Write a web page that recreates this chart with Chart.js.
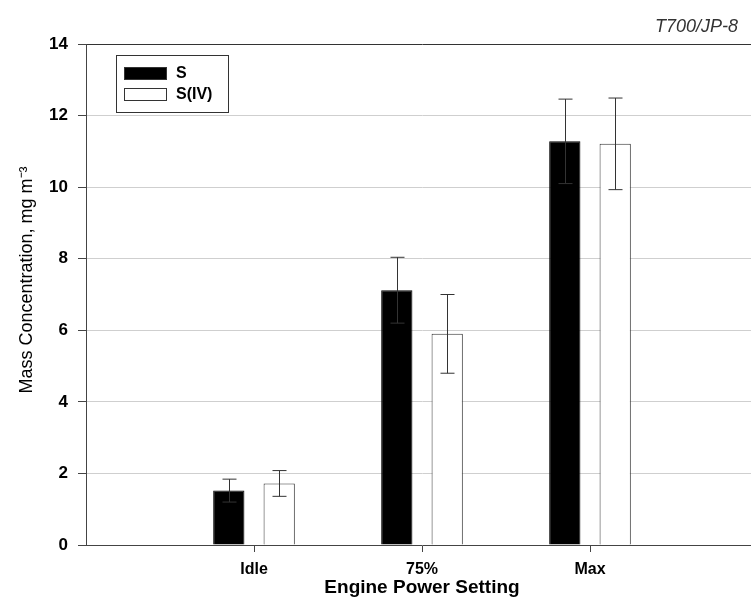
<!DOCTYPE html>
<html>
<head>
<meta charset="utf-8">
<script src="https://cdn.jsdelivr.net/npm/chart.js@4.4.0/dist/chart.umd.min.js"></script>
<style>
  html, body { margin: 0; padding: 0; background: #fff; overflow: hidden; }
  /* the original figure is cropped on the right, so the plot runs a little past the window */
  #wrap { width: 758px; height: 611px; position: relative; }
</style>
</head>
<body>
<div id="wrap"><canvas id="c"></canvas></div>
<script>
// values
const categories = ['Idle', '75%', 'Max'];
const sValues = [1.52, 7.12, 11.28];
const sErr = [0.32, 0.92, 1.18];
const sivValues = [1.72, 5.9, 11.21];
const sivErr = [0.36, 1.1, 1.28];
const yTicks = [0, 2, 4, 6, 8, 10, 12, 14];

const FONT = '"Liberation Sans", Arial, Helvetica, sans-serif';

// pad one empty slot on each side so the groups sit at 1/4, 2/4, 3/4 of the width
const labels = [''].concat(categories, ['']);
const pad = arr => [null].concat(arr, [null]);

// error bars drawn from the scale
const errorBars = {
  id: 'errorBars',
  afterDatasetsDraw(chart) {
    const ctx = chart.ctx;
    const y = chart.scales.y;
    const errs = [sErr, sivErr];
    ctx.save();
    ctx.strokeStyle = '#333';
    ctx.lineWidth = 1;
    chart.data.datasets.forEach((ds, i) => {
      const meta = chart.getDatasetMeta(i);
      meta.data.forEach((bar, j) => {
        const v = ds.data[j];
        if (v == null) return;
        const e = errs[i][j - 1];
        const x = Math.round(bar.x) + 0.5;
        const top = y.getPixelForValue(v + e);
        const bot = y.getPixelForValue(v - e);
        ctx.beginPath();
        ctx.moveTo(x, top); ctx.lineTo(x, bot);
        ctx.moveTo(x - 7, top); ctx.lineTo(x + 7, top);
        ctx.moveTo(x - 7, bot); ctx.lineTo(x + 7, bot);
        ctx.stroke();
      });
    });
    ctx.restore();
  }
};

// boxed legend inside the plot, y title and the corner note
const extras = {
  id: 'extras',
  afterDraw(chart) {
    const ctx = chart.ctx;
    ctx.save();
    // legend box
    ctx.strokeStyle = '#333';
    ctx.lineWidth = 1;
    ctx.strokeRect(116.5, 55.5, 112, 57);
    chart.data.datasets.forEach((ds, i) => {
      const sy = 67 + i * 21;
      ctx.fillStyle = ds.backgroundColor;
      ctx.fillRect(124, sy, 43, 13);
      ctx.strokeStyle = '#333';
      ctx.strokeRect(124.5, sy + 0.5, 42, 12);
      ctx.fillStyle = '#000';
      ctx.font = 'bold 16px ' + FONT;
      ctx.textBaseline = 'middle';
      ctx.textAlign = 'left';
      ctx.fillText(ds.label, 176, sy + 7);
    });
    // y axis title
    ctx.save();
    ctx.translate(27, 280);
    ctx.rotate(-Math.PI / 2);
    ctx.font = '18px ' + FONT;
    ctx.textAlign = 'center';
    ctx.textBaseline = 'middle';
    ctx.fillStyle = '#000';
    ctx.fillText('Mass Concentration, mg m\u207B\u00B3', 0, 0);
    ctx.restore();
    // corner note
    ctx.font = 'italic 18px ' + FONT;
    ctx.textAlign = 'right';
    ctx.textBaseline = 'alphabetic';
    ctx.fillStyle = '#333';
    ctx.fillText('T700/JP-8', 738, 32);
    ctx.restore();
  }
};

new Chart(document.getElementById('c'), {
  type: 'bar',
  data: {
    labels: labels,
    datasets: [
      { label: 'S', data: pad(sValues), backgroundColor: '#000', borderColor: '#000', borderWidth: 1 },
      { label: 'S(IV)', data: pad(sivValues), backgroundColor: '#fff', borderColor: '#333', borderWidth: 1 }
    ]
  },
  options: {
    responsive: true,
    maintainAspectRatio: false,
    animation: false,
    layout: { padding: { top: 44, right: 0, bottom: 0, left: 0 } },
    categoryPercentage: 0.6,
    barPercentage: 0.62,
    plugins: { legend: { display: false }, tooltip: { enabled: false } },
    scales: {
      x: {
        offset: false,
        afterBuildTicks: s => { s.ticks = s.ticks.filter(t => t.value >= 1 && t.value <= categories.length); },
        afterFit: s => { s.height = 66; },
        grid: { offset: false, drawOnChartArea: false, tickLength: 7, tickColor: '#444' },
        border: { color: '#444', width: 1 },
        ticks: { color: '#000', font: { family: FONT, size: 16, weight: 'bold' }, padding: 8, maxRotation: 0, autoSkip: false },
        title: { display: true, text: 'Engine Power Setting', color: '#000', font: { family: FONT, size: 19, weight: 'bold' }, padding: { top: 0, bottom: 12 } }
      },
      y: {
        min: 0,
        max: 14,
        afterBuildTicks: s => { s.ticks = yTicks.map(v => ({ value: v })); },
        afterFit: s => { s.width = 86; },
        grid: {
          color: c => c.tick.value === 14 ? '#333' : (c.tick.value === 0 ? 'rgba(0,0,0,0)' : '#cfcfcf'),
          tickColor: '#444',
          tickLength: 8,
          lineWidth: 1
        },
        border: { color: '#444', width: 1 },
        ticks: { color: '#000', font: { family: FONT, size: 17, weight: 'bold' }, padding: 10 }
      }
    }
  },
  plugins: [errorBars, extras]
});
</script>
</body>
</html>
